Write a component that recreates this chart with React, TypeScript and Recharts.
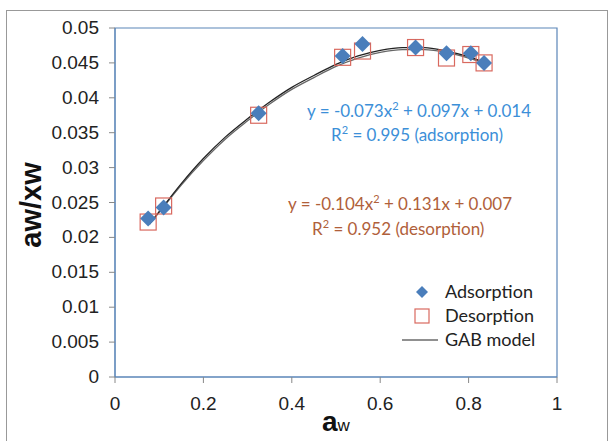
import {
  ComposedChart,
  Line,
  Scatter,
  XAxis,
  YAxis,
  ReferenceArea,
} from "recharts";

const awAds = [0.075, 0.11, 0.325, 0.515, 0.56, 0.68, 0.75, 0.805, 0.835];
const ratioAds = [0.0227, 0.0243, 0.0378, 0.046, 0.0477, 0.0472, 0.0464, 0.0464, 0.045];
const awDes = [0.075, 0.11, 0.325, 0.515, 0.56, 0.68, 0.75, 0.805, 0.835];
const ratioDes = [0.0222, 0.0245, 0.0375, 0.0458, 0.0467, 0.0472, 0.0457, 0.0462, 0.045];

const awModel = [0.078, 0.11, 0.15, 0.2, 0.25, 0.3, 0.35, 0.4, 0.45, 0.5, 0.55, 0.6, 0.65, 0.7, 0.75, 0.8, 0.835];
const gabAds = [0.0219, 0.0245, 0.0277, 0.0313, 0.0344, 0.037, 0.0394, 0.0415, 0.0432, 0.0448, 0.046, 0.0468, 0.0472, 0.0472, 0.0467, 0.0459, 0.0451];
const gabDes = [0.0219, 0.0244, 0.0275, 0.031, 0.0341, 0.0367, 0.0391, 0.0412, 0.0429, 0.0445, 0.0457, 0.0465, 0.0469, 0.0469, 0.0465, 0.0457, 0.045];

const xTicks = [0, 0.2, 0.4, 0.6, 0.8, 1];
const yTicks = [0, 0.005, 0.01, 0.015, 0.02, 0.025, 0.03, 0.035, 0.04, 0.045, 0.05];

const adsPts = awAds.map((x, i) => ({ x, y: ratioAds[i] }));
const desPts = awDes.map((x, i) => ({ x, y: ratioDes[i] }));
const modelA = awModel.map((x, i) => ({ x, y: gabAds[i] }));
const modelD = awModel.map((x, i) => ({ x, y: gabDes[i] }));

const BLUE = "#4a7ebb";
const AXIS = "#5b85b8";
const SANS = "'Liberation Sans', Arial, sans-serif";

const Diamond = (p: any) => (
  <path
    d={`M${p.cx},${p.cy - 8} L${p.cx + 8},${p.cy} L${p.cx},${p.cy + 8} L${p.cx - 8},${p.cy} Z`}
    fill={BLUE}
  />
);

const Square = (p: any) => (
  <rect x={p.cx - 8} y={p.cy - 8} width={16} height={16} fill="none" stroke="#d9695f" strokeWidth={1.2} />
);

// tick renderers so the font size sticks
const YTick = (p: any) => (
  <text x={p.x - 8} y={p.y} dy={6} textAnchor="end" fontSize={19} fontFamily={SANS} fill="#222">
    {p.payload.value}
  </text>
);
const XTick = (p: any) => (
  <text x={p.x} y={p.y} dy={25} textAnchor="middle" fontSize={19} fontFamily={SANS} fill="#222">
    {p.payload.value}
  </text>
);

const label = { fontFamily: "Lato, 'Open Sans', sans-serif", fontSize: 17, position: "absolute" as const, whiteSpace: "nowrap" as const };

export default function App() {
  return (
    <div style={{ position: "absolute", left: 0, top: 0, width: 616, height: 441, background: "#fff", overflow: "hidden" }}>
      <div style={{ position: "absolute", left: 6, top: 10, width: 600, height: 440, border: "1px solid #999" }} />
      <ComposedChart width={616} height={441} margin={{ top: 28, right: 59, bottom: 0, left: 0 }}>
        <XAxis
          type="number"
          dataKey="x"
          domain={[0, 1]}
          ticks={xTicks}
          height={64}
          stroke={AXIS}
          tickLine={{ stroke: "#888" }}
          tickSize={6}
          tick={XTick}
          allowDataOverflow
        />
        <YAxis
          type="number"
          dataKey="y"
          domain={[0, 0.05]}
          ticks={yTicks}
          width={115}
          stroke={AXIS}
          tickLine={{ stroke: "#888" }}
          tickSize={6}
          tick={YTick}
        />
        <ReferenceArea x1={0} x2={1} y1={0} y2={0.05} fill="none" stroke={AXIS} strokeWidth={1.2} />
        <Line data={modelD} dataKey="y" type="monotone" stroke="#666" strokeWidth={1.3} dot={false} isAnimationActive={false} />
        <Line data={modelA} dataKey="y" type="monotone" stroke="#222" strokeWidth={1.3} dot={false} isAnimationActive={false} />
        <Scatter data={desPts} dataKey="y" shape={Square} isAnimationActive={false} />
        <Scatter data={adsPts} dataKey="y" shape={Diamond} isAnimationActive={false} />
      </ComposedChart>

      <div style={{ ...label, color: "#3c8fd8", left: 307, top: 99 }}>
        y = -0.073x<sup style={{ fontSize: 11 }}>2</sup> + 0.097x + 0.014
      </div>
      <div style={{ ...label, color: "#3c8fd8", left: 331, top: 123 }}>
        R<sup style={{ fontSize: 11 }}>2</sup> = 0.995 (adsorption)
      </div>
      <div style={{ ...label, color: "#b0603a", left: 288, top: 192 }}>
        y = -0.104x<sup style={{ fontSize: 11 }}>2</sup> + 0.131x + 0.007
      </div>
      <div style={{ ...label, color: "#b0603a", left: 312, top: 217 }}>
        R<sup style={{ fontSize: 11 }}>2</sup> = 0.952 (desorption)
      </div>

      <svg style={{ position: "absolute", left: 0, top: 0 }} width={616} height={441}>
        <path d="M422,286 L428,292 L422,298 L416,292 Z" fill={BLUE} />
        <rect x={415} y={309} width={14} height={14} fill="none" stroke="#d9695f" strokeWidth={1.2} />
        <line x1={402} x2={438} y1={340} y2={340} stroke="#222" strokeWidth={1.2} />
      </svg>
      <div style={{ ...label, fontSize: 18, color: "#222", left: 445, top: 280 }}>Adsorption</div>
      <div style={{ ...label, fontSize: 18, color: "#222", left: 445, top: 304 }}>Desorption</div>
      <div style={{ ...label, fontSize: 18, color: "#222", left: 445, top: 328 }}>GAB model</div>

      <div
        style={{
          position: "absolute",
          left: 31,
          top: 205,
          transform: "translate(-50%, -50%) rotate(-90deg)",
          fontFamily: SANS,
          fontWeight: "bold",
          fontSize: 29,
          color: "#111",
          whiteSpace: "nowrap",
        }}
      >
        aw/xw
      </div>
      <div
        style={{
          position: "absolute",
          left: 322,
          top: 406,
          fontFamily: SANS,
          color: "#111",
          whiteSpace: "nowrap",
        }}
      >
        <span style={{ fontSize: 28, fontWeight: "bold" }}>a</span>
        <span style={{ fontSize: 17 }}>w</span>
      </div>
    </div>
  );
}
